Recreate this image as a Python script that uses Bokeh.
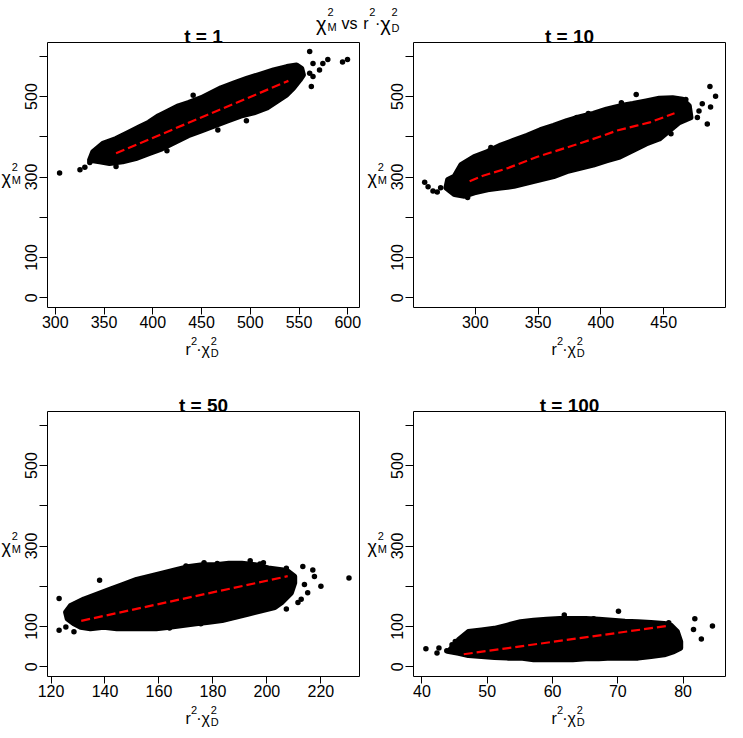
from bokeh.plotting import figure
from bokeh.models import Range1d, FixedTicker, Label
from bokeh.layouts import gridplot
from bokeh.embed import file_html
from bokeh.resources import INLINE

# ---------------- data ----------------
panel_titles = ["t = 1", "t = 10", "t = 50", "t = 100"]
Y_LIMITS = (-24.4, 634.4)
y_major = [0, 100, 300, 500]
y_minor = [200, 400, 600]
x_limits = [(292, 612), (250.8, 499.2), (118.7, 234.3), (38.7, 86.5)]
x_ticks = [[300, 350, 400, 450, 500, 550, 600],
           [300, 350, 400, 450],
           [120, 140, 160, 180, 200, 220],
           [40, 50, 60, 70, 80]]

# t = 1 : outline of the dense point cloud, isolated points, fitted line
t1_cloud_x = [338.7, 348.8, 362.3, 375.8, 385.9, 396.0, 406.0, 416.2, 426.3, 436.4, 449.8, 459.9, 470.0, 483.5,
              497.0, 510.4, 523.9, 537.4, 547.5, 552.5, 554.2, 550.8, 544.1, 537.4, 527.3, 517.2, 503.7, 490.2,
              476.8, 463.3, 449.8, 436.4, 422.9, 409.4, 396.0, 382.5, 369.0, 355.6, 345.5, 335.4]
t1_cloud_y = [362.6, 382.9, 395.1, 411.4, 423.6, 435.8, 452.0, 464.2, 476.4, 484.6, 496.7, 508.9, 521.1, 533.3,
              545.5, 555.3, 565.9, 574.0, 578.0, 569.9, 553.7, 541.5, 521.1, 504.9, 488.6, 472.4, 460.2, 452.0,
              439.8, 427.6, 415.4, 403.2, 387.0, 370.7, 358.5, 346.3, 338.2, 334.1, 338.2, 342.3]
t1_pts_x = [304.4, 325.3, 330.3, 335.4, 341.4, 362.3, 414.5, 441.4, 466.7, 496.0, 560.9, 564.3, 574.4, 579.5,
            571.0, 560.9, 564.3, 562.6, 594.6, 599.7]
t1_pts_y = [309.8, 317.9, 324.4, 335.8, 346.3, 326.0, 365.0, 503.3, 417.1, 439.8, 612.2, 582.1, 582.1, 591.9,
            565.9, 557.7, 549.6, 525.2, 586.2, 591.9]
t1_fit_x = [362.3, 539.1]
t1_fit_y = [359.0, 539.0]

# t = 10
t10_cloud_x = [283.4, 288.7, 299.2, 309.7, 320.3, 330.8, 341.3, 351.8, 362.4, 372.9, 383.4, 393.9, 404.4, 415.0,
               425.5, 436.0, 446.5, 457.1, 465.0, 470.2, 471.5, 462.3, 454.4, 446.5, 436.0, 425.5, 415.0, 404.4,
               393.9, 383.4, 372.9, 362.4, 351.8, 341.3, 330.8, 320.3, 309.7, 299.2, 291.3, 283.4, 276.8, 278.2]
t10_cloud_y = [301.7, 330.0, 350.4, 362.6, 378.8, 391.0, 403.2, 417.1, 427.6, 439.8, 449.6, 457.7, 468.3, 476.4,
               482.1, 488.6, 495.1, 496.7, 492.7, 476.4, 448.0, 435.8, 415.4, 395.1, 382.9, 366.6, 350.4, 340.7,
               330.0, 322.0, 313.9, 301.7, 293.4, 285.4, 277.3, 273.2, 269.0, 261.0, 252.9, 256.8, 273.2, 293.4]
t10_pts_x = [259.7, 262.4, 266.3, 269.7, 272.4, 293.9, 312.4, 380.8, 390.0, 416.3, 428.1, 486.8, 491.3, 487.3,
             480.7, 484.7, 476.8, 478.1, 455.8, 467.6]
t10_pts_y = [287.0, 275.6, 265.1, 262.7, 273.2, 248.8, 373.2, 448.0, 457.7, 484.6, 504.9, 525.2, 500.8, 474.0,
             482.1, 431.7, 448.0, 464.2, 407.3, 492.7]
t10_fit_x = [295.5, 306.1, 325.8, 349.5, 378.4, 402.1, 412.6, 428.4, 438.9, 458.6]
t10_fit_y = [289.5, 303.2, 322.0, 350.4, 378.8, 403.2, 415.4, 427.6, 435.8, 458.5]

# t = 50
t50_cloud_x = [125.5, 127.3, 132.2, 137.1, 142.0, 146.8, 151.7, 156.6, 161.5, 166.3, 171.2, 176.1, 181.0, 185.9,
               190.7, 195.6, 200.5, 205.4, 207.8, 210.2, 210.2, 209.0, 205.4, 202.9, 198.0, 193.2, 188.3, 183.4,
               178.5, 173.7, 168.8, 163.9, 159.0, 154.1, 149.3, 144.4, 139.5, 134.6, 131.0, 128.5, 126.1]
t50_cloud_y = [135.3, 151.5, 167.7, 179.9, 192.0, 204.2, 216.3, 224.4, 232.5, 240.6, 248.8, 252.8, 252.8, 256.8,
               256.8, 252.8, 244.7, 240.6, 236.6, 224.4, 208.2, 183.9, 159.6, 147.5, 139.4, 131.3, 123.1, 115.1,
               111.0, 107.0, 102.9, 98.8, 94.8, 94.8, 94.8, 94.8, 98.8, 94.8, 98.8, 107.0, 119.1]
t50_pts_x = [123.0, 123.0, 125.5, 128.5, 138.0, 163.9, 175.5, 170.0, 176.7, 181.6, 193.8, 197.4, 198.7, 207.2,
             213.3, 217.0, 217.6, 220.0, 230.4, 213.9, 215.1, 212.7, 211.5, 207.2]
t50_pts_y = [169.3, 90.7, 98.8, 86.7, 214.7, 96.4, 107.0, 250.4, 258.4, 256.8, 263.3, 255.2, 258.4, 244.7,
             248.8, 240.6, 224.4, 200.1, 220.4, 204.2, 183.9, 167.7, 159.6, 143.4]
t50_fit_x = [131.2, 207.7]
t50_fit_y = [114.0, 225.0]

# t = 100
t100_cloud_x = [44.1, 45.6, 47.1, 49.1, 51.1, 53.1, 55.1, 57.1, 59.1, 61.1, 63.1, 65.1, 67.1, 69.1, 71.1, 73.1,
                75.1, 77.1, 78.1, 79.1, 79.6, 79.6, 78.6, 77.1, 75.1, 73.1, 71.1, 69.1, 67.1, 65.1, 63.1, 61.1,
                59.1, 57.1, 55.1, 53.1, 51.1, 49.1, 47.1, 45.6]
t100_cloud_y = [38.1, 66.4, 86.7, 90.7, 94.8, 102.9, 111.0, 115.1, 117.5, 119.1, 119.1, 119.1, 117.5, 115.1,
                112.6, 111.0, 109.4, 107.0, 102.9, 86.7, 62.4, 46.2, 38.1, 30.0, 25.9, 21.9, 21.9, 21.9, 20.2,
                20.2, 17.8, 17.8, 17.8, 17.8, 21.9, 21.9, 23.5, 25.9, 28.4, 34.0]
t100_pts_x = [40.6, 42.3, 42.6, 43.8, 44.6, 45.1, 61.8, 66.3, 70.1, 77.8, 81.8, 81.6, 82.8, 84.5, 77.1]
t100_pts_y = [44.6, 34.0, 46.2, 39.7, 54.3, 62.4, 128.8, 119.1, 137.7, 109.4, 119.1, 92.4, 68.9, 101.3, 34.0]
t100_fit_x = [46.4, 77.9]
t100_fit_y = [31.0, 102.0]

# ---------------- styling / layout ----------------
FONT = "Liberation Sans"
BOX_W, BOX_H = 312, 265      # size of the plotting box in px
BOX_BOTTOM = 54              # px from canvas bottom to box bottom


def add_text(p, x, y, text, size, style="normal", align="left"):
    p.add_layout(Label(x=x, y=y, x_units="screen", y_units="screen", text=text,
                       text_font=FONT, text_font_size=f"{size}px", text_font_style=style,
                       text_align=align, text_baseline="alphabetic", text_color="black"))


def make_panel(title, xlim, xticks, cx, cy, px, py, fx, fy, left, right, top):
    W = left + BOX_W + right
    H = top + BOX_H + BOX_BOTTOM
    sx = (xlim[1] - xlim[0]) / BOX_W
    sy = (Y_LIMITS[1] - Y_LIMITS[0]) / BOX_H
    xr = Range1d(xlim[0] - left * sx, xlim[1] + right * sx)
    yr = Range1d(Y_LIMITS[0] - BOX_BOTTOM * sy, Y_LIMITS[1] + top * sy)
    p = figure(width=W, height=H, output_backend="svg", toolbar_location=None,
               x_range=xr, y_range=yr,
               min_border_left=0, min_border_right=0, min_border_top=0, min_border_bottom=0)
    p.title.visible = False
    p.grid.visible = False
    p.outline_line_color = None
    p.background_fill_color = "white"
    p.border_fill_color = "white"

    # plot box
    p.quad(left=[xlim[0]], right=[xlim[1]], bottom=[Y_LIMITS[0]], top=[Y_LIMITS[1]],
           fill_color=None, line_color="black", line_width=1)

    p.patch(cx, cy, fill_color="black", line_color="black", line_width=5.5, line_join="round")
    p.scatter(px, py, size=5.5, fill_color="black", line_color=None)
    p.line(fx, fy, line_color="#ff0000", line_width=2.2, line_dash="9 4")

    xa = p.xaxis[0]
    xa.fixed_location = Y_LIMITS[0]
    xa.ticker = FixedTicker(ticks=xticks)
    xa.bounds = (xticks[0], xticks[-1])
    xa.major_tick_out = 7
    xa.major_tick_in = 0
    xa.minor_tick_out = 0
    xa.minor_tick_in = 0
    xa.major_label_standoff = 1
    ya = p.yaxis[0]
    ya.fixed_location = xlim[0]
    ya.ticker = FixedTicker(ticks=y_major, minor_ticks=y_minor)
    ya.bounds = (0, 600)
    ya.major_tick_out = 8
    ya.major_tick_in = 0
    ya.minor_tick_out = 8
    ya.minor_tick_in = 0
    ya.major_label_standoff = 2
    ya.major_label_orientation = "vertical"
    for ax in (xa, ya):
        ax.axis_line_color = "black"
        ax.major_tick_line_color = "black"
        ax.minor_tick_line_color = "black"
        ax.major_label_text_font = FONT
        ax.major_label_text_font_size = "16px"
        ax.major_label_text_color = "black"

    ox, oy = left, BOX_BOTTOM   # box origin on the canvas
    cy_ = oy + BOX_H / 2
    # panel title
    add_text(p, ox + BOX_W / 2, oy + BOX_H + 6.3, title, 19, style="bold", align="center")
    # y label  chi^2_M
    add_text(p, ox - 46, cy_ - 3, "χ", 18)
    add_text(p, ox - 35.8, cy_ + 8.5, "2", 11)
    add_text(p, ox - 35.8, cy_ - 4.5, "M", 11)
    # x label  r^2 . chi^2_D
    add_text(p, ox + 138, oy - 42, "r", 16)
    add_text(p, ox + 143.5, oy - 33.6, "2", 11)
    add_text(p, ox + 151.5, oy - 42, "·", 16, align="center")
    add_text(p, ox + 154, oy - 42, "χ", 16)
    add_text(p, ox + 163.2, oy - 33.6, "2", 11)
    add_text(p, ox + 163.2, oy - 45.5, "D", 11)
    return p


f1 = make_panel(panel_titles[0], x_limits[0], x_ticks[0], t1_cloud_x, t1_cloud_y, t1_pts_x, t1_pts_y,
                t1_fit_x, t1_fit_y, 47, 2, 42)
f2 = make_panel(panel_titles[1], x_limits[1], x_ticks[1], t10_cloud_x, t10_cloud_y, t10_pts_x, t10_pts_y,
                t10_fit_x, t10_fit_y, 52, 2, 42)
f3 = make_panel(panel_titles[2], x_limits[2], x_ticks[2], t50_cloud_x, t50_cloud_y, t50_pts_x, t50_pts_y,
                t50_fit_x, t50_fit_y, 47, 2, 50)
f4 = make_panel(panel_titles[3], x_limits[3], x_ticks[3], t100_cloud_x, t100_cloud_y, t100_pts_x, t100_pts_y,
                t100_fit_x, t100_fit_y, 52, 2, 50)

# main title  chi^2_M vs r^2 . chi^2_D  (split over the two upper panels)
TOP_H = 42 + BOX_H + BOX_BOTTOM
mb = TOP_H - 22.7   # baseline of the main title on the upper canvases
add_text(f1, 47 + 268.5, mb - 0.6, "χ", 20)
add_text(f1, 47 + 280, mb + 11.7, "2", 11)
add_text(f1, 47 + 280, mb - 4, "M", 11)
add_text(f1, 47 + 294, mb, "vs", 16)
add_text(f2, 52 - 50.3, mb, "r", 16)
add_text(f2, 52 - 44.3, mb + 11.7, "2", 11)
add_text(f2, 52 - 35.8, mb, "·", 16, align="center")
add_text(f2, 52 - 33.3, mb - 0.6, "χ", 20)
add_text(f2, 52 - 22, mb + 11.7, "2", 11)
add_text(f2, 52 - 22, mb - 5, "D", 11)

grid = gridplot([[f1, f2], [f3, f4]], toolbar_location=None)

with open("out.html", "w") as fh:
    fh.write(file_html(grid, INLINE))
